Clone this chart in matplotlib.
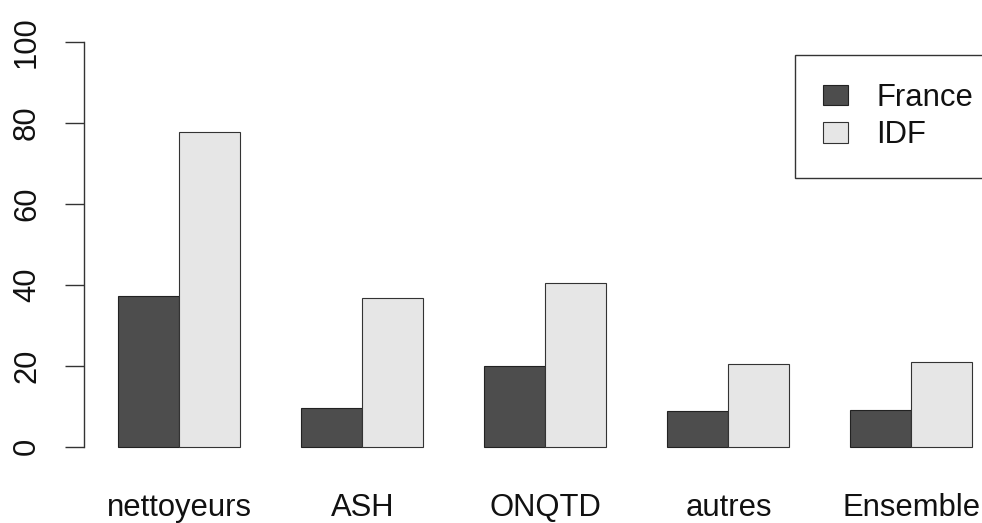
import matplotlib
matplotlib.use("Agg")
import matplotlib.pyplot as plt
import numpy as np

categories = ["nettoyeurs", "ASH", "ONQTD", "autres", "Ensemble"]
series_names = ["France", "IDF"]
france = [37.3, 9.5, 20.0, 8.8, 9.1]
idf = [77.8, 36.6, 40.3, 20.3, 21.0]
yticks = [0, 20, 40, 60, 80, 100]
colors = ["#4D4D4D", "#E6E6E6"]

plt.rcParams['font.family'] = ['Liberation Sans', 'DejaVu Sans']
FS = 22.3

W, H = 982, 523
fig = plt.figure(figsize=(W / 100, H / 100), dpi=100)
# plot region (R-like), extends past right edge of the figure
left_px, right_px = 84.3, 1006.5
top_px, bottom_px = 25.5, 462.9
ax = fig.add_axes([left_px / W, 1 - bottom_px / H,
                   (right_px - left_px) / W, (bottom_px - top_px) / H])

n = len(categories)
# R barplot beside=TRUE: width 1, space c(0,1)
group_start = 1 + 3 * np.arange(n)
ax.bar(group_start, france, width=1, align='edge', color=colors[0],
       edgecolor='#222222', linewidth=0.8, label=series_names[0])
ax.bar(group_start + 1, idf, width=1, align='edge', color=colors[1],
       edgecolor='#333333', linewidth=0.8, label=series_names[1])

ax.set_xlim(0.44, 15.56)
ax.set_ylim(-4, 104)

for s in ['top', 'right', 'bottom']:
    ax.spines[s].set_visible(False)
ax.spines['left'].set_bounds(0, 100)
ax.spines['left'].set_color('#333333')
ax.spines['left'].set_linewidth(1.0)

ax.set_yticks(yticks)
ax.set_yticklabels([str(v) for v in yticks], rotation=90, va='center',
                   fontsize=FS, color='#111111')
ax.tick_params(axis='y', length=13.4, width=1.0, color='#333333', pad=17)

ax.set_xticks(group_start + 1)
ax.set_xticklabels(categories, fontsize=FS, color='#111111')
ax.tick_params(axis='x', length=0, pad=22)

fs_px = FS / 72 * 100
leg = ax.legend(loc='upper left', bbox_to_anchor=(795 / W, 1 - 55 / H),
                bbox_transform=fig.transFigure, fontsize=FS,
                frameon=True, fancybox=False, framealpha=1,
                edgecolor='#333333', borderpad=28 / fs_px,
                handlelength=24.7 / fs_px, handleheight=20 / fs_px,
                handletextpad=28.7 / fs_px, labelspacing=0.24,
                borderaxespad=0)
leg.get_frame().set_linewidth(1.0)
for t in leg.get_texts():
    t.set_color('#111111')

fig.savefig("out.png", dpi=100)
